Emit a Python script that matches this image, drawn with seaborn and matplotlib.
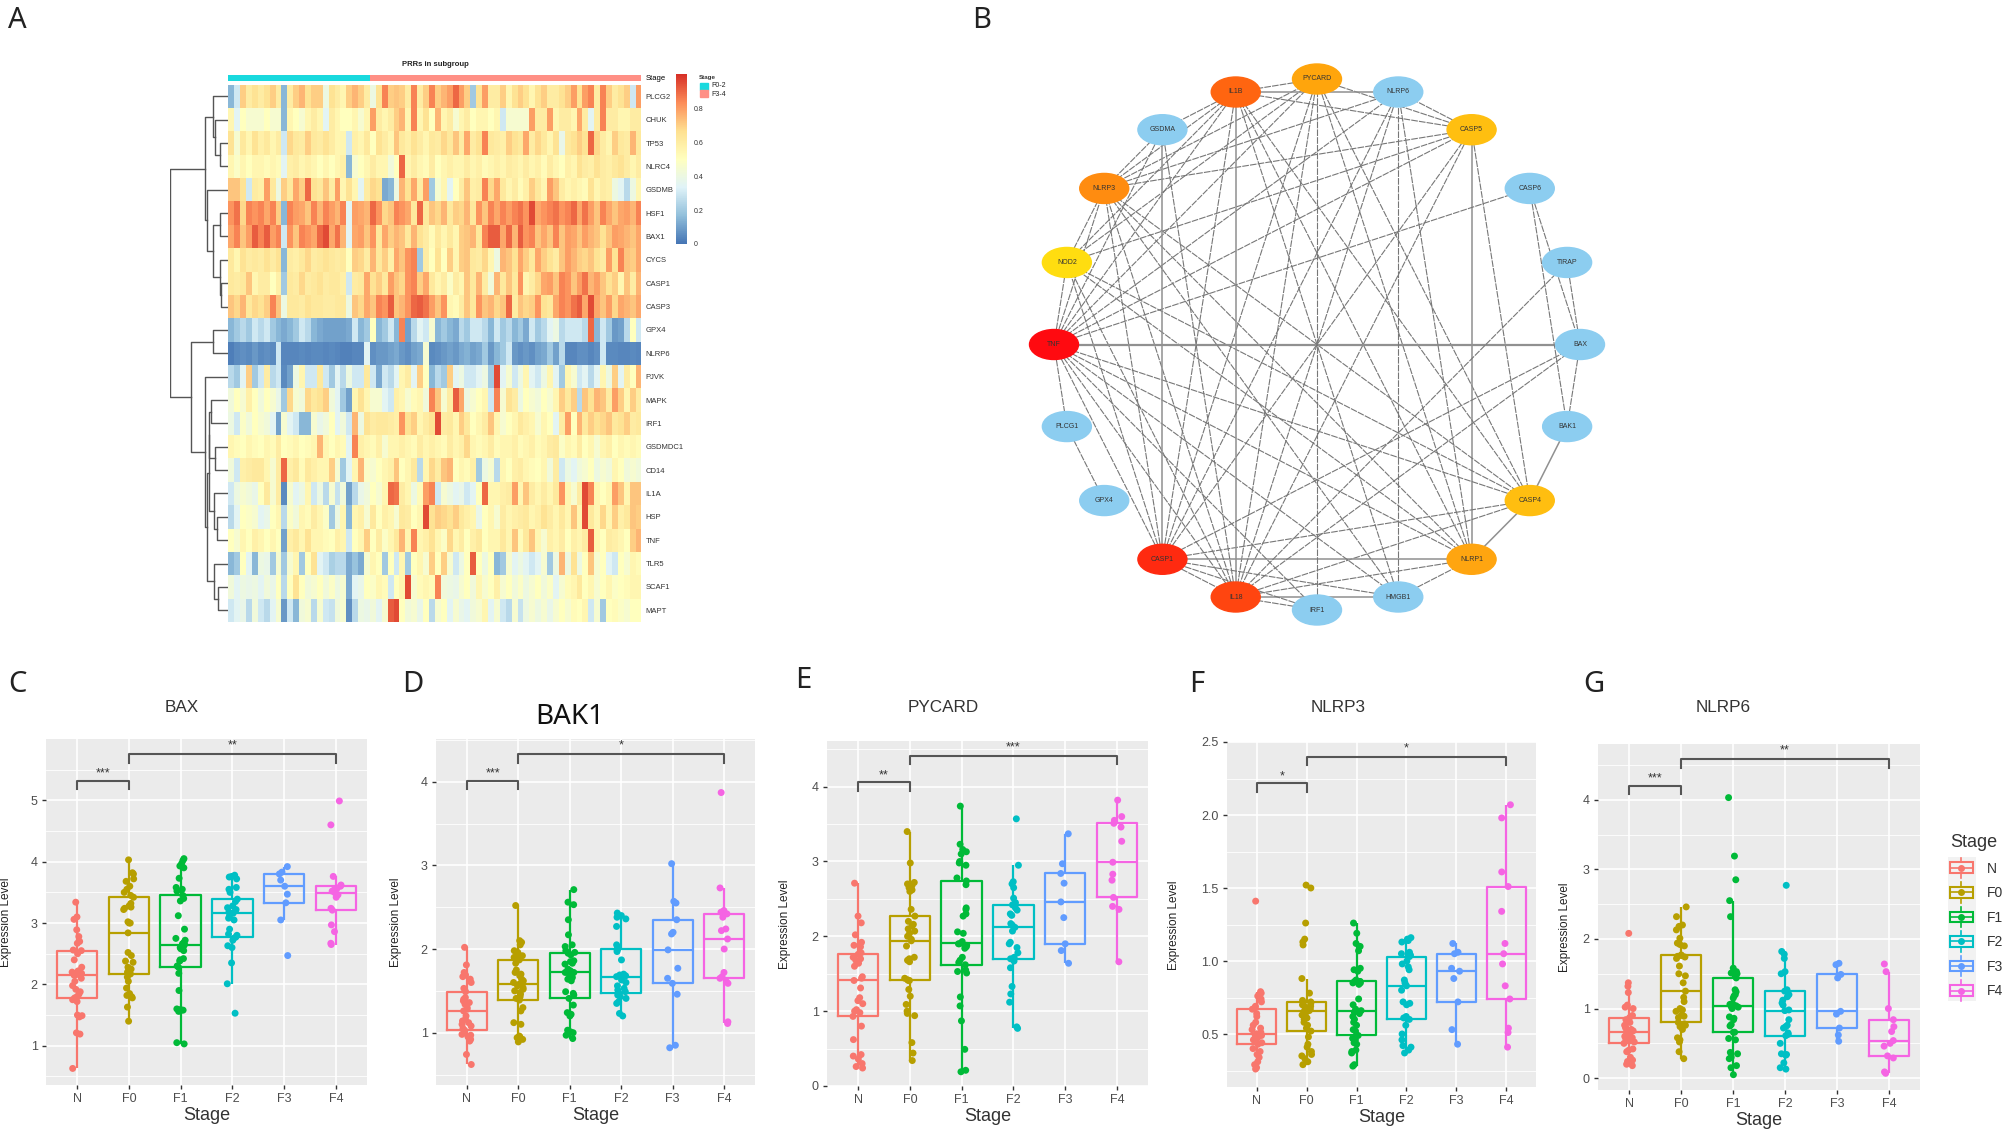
import itertools
import numpy as np
import pandas as pd
import matplotlib
matplotlib.use("Agg")
import matplotlib.pyplot as plt
from matplotlib.colors import LinearSegmentedColormap, ListedColormap
from matplotlib.legend_handler import HandlerBase
from matplotlib.lines import Line2D
from matplotlib.patches import Ellipse, Rectangle
import seaborn as sns

plt.rcParams['font.family'] = ['Liberation Sans', 'DejaVu Sans']

W, H = 2008, 1134
stages = ['N', 'F0', 'F1', 'F2', 'F3', 'F4']
stage_colors = ['#F8766D', '#B79F00', '#00BA38', '#00BFC4', '#619CFF', '#F564E3']

# BAX
bax_n = [0.63, 1.19, 1.21, 1.47, 1.49, 1.50, 1.72, 1.75, 1.78, 1.80, 1.84, 1.88, 1.92, 1.98, 2.05, 2.10, 2.15, 2.16, 2.18, 2.20, 2.22, 2.28, 2.40, 2.50, 2.55, 2.56, 2.67, 2.70, 2.78, 2.89, 3.06, 3.10, 3.34]
bax_f0 = [1.40, 1.63, 1.78, 1.80, 1.82, 1.85, 1.94, 2.05, 2.12, 2.17, 2.20, 2.22, 2.25, 2.28, 2.36, 2.38, 2.47, 2.52, 2.84, 3.00, 3.00, 3.02, 3.22, 3.24, 3.26, 3.28, 3.32, 3.42, 3.45, 3.50, 3.55, 3.60, 3.68, 3.72, 3.80, 3.82, 4.03]
bax_f1 = [1.03, 1.05, 1.56, 1.57, 1.58, 1.59, 1.60, 1.90, 2.18, 2.28, 2.30, 2.38, 2.40, 2.42, 2.55, 2.58, 2.60, 2.62, 2.65, 2.66, 2.68, 2.72, 2.75, 2.90, 3.12, 3.36, 3.40, 3.45, 3.52, 3.55, 3.58, 3.73, 3.90, 3.93, 3.97, 4.02, 4.05]
bax_f2 = [1.53, 2.01, 2.35, 2.60, 2.63, 2.72, 2.75, 2.77, 2.80, 2.82, 2.90, 3.05, 3.08, 3.12, 3.16, 3.18, 3.20, 3.22, 3.25, 3.28, 3.35, 3.39, 3.50, 3.55, 3.58, 3.72, 3.75, 3.76, 3.78]
bax_f3 = [2.47, 3.05, 3.33, 3.47, 3.60, 3.70, 3.80, 3.83, 3.92]
bax_f4 = [2.65, 2.67, 2.86, 2.97, 3.21, 3.24, 3.42, 3.46, 3.49, 3.52, 3.54, 3.56, 3.60, 3.62, 3.76, 4.60, 4.99]

# BAK1
bak1_n = [0.62, 0.74, 0.90, 0.92, 0.95, 0.97, 0.98, 1.00, 1.03, 1.05, 1.08, 1.10, 1.12, 1.14, 1.16, 1.20, 1.26, 1.28, 1.30, 1.34, 1.36, 1.38, 1.40, 1.42, 1.49, 1.53, 1.60, 1.64, 1.67, 1.69, 1.72, 1.81, 2.02]
bak1_f0 = [0.89, 0.92, 0.94, 0.95, 0.96, 1.10, 1.12, 1.26, 1.30, 1.39, 1.41, 1.43, 1.46, 1.48, 1.50, 1.52, 1.54, 1.56, 1.58, 1.60, 1.62, 1.64, 1.68, 1.70, 1.72, 1.75, 1.83, 1.87, 1.90, 1.92, 1.95, 1.96, 1.98, 2.05, 2.08, 2.10, 2.52]
bak1_f1 = [0.93, 0.97, 1.00, 1.01, 1.03, 1.20, 1.22, 1.24, 1.33, 1.41, 1.45, 1.47, 1.49, 1.62, 1.64, 1.66, 1.68, 1.70, 1.72, 1.72, 1.74, 1.76, 1.82, 1.83, 1.85, 1.86, 1.93, 1.95, 1.96, 1.98, 2.03, 2.05, 2.17, 2.35, 2.53, 2.56, 2.71]
bak1_f2 = [1.20, 1.23, 1.35, 1.37, 1.41, 1.43, 1.45, 1.47, 1.49, 1.51, 1.53, 1.56, 1.60, 1.63, 1.67, 1.68, 1.69, 1.70, 1.87, 1.97, 1.99, 2.00, 2.02, 2.05, 2.27, 2.36, 2.38, 2.40, 2.43]
bak1_f3 = [0.82, 0.85, 1.46, 1.59, 1.65, 1.77, 1.99, 2.18, 2.20, 2.35, 2.55, 2.57, 3.02]
bak1_f4 = [1.11, 1.13, 1.59, 1.61, 1.65, 1.67, 1.72, 2.00, 2.12, 2.22, 2.24, 2.38, 2.42, 2.44, 2.46, 2.73, 3.87]

# PYCARD
pycard_n = [0.24, 0.26, 0.30, 0.36, 0.40, 0.42, 0.62, 0.80, 0.93, 0.98, 1.00, 1.02, 1.10, 1.14, 1.18, 1.31, 1.41, 1.44, 1.46, 1.60, 1.64, 1.68, 1.70, 1.72, 1.76, 1.78, 1.86, 1.88, 1.92, 2.02, 2.18, 2.27, 2.71]
pycard_f0 = [0.34, 0.44, 0.58, 0.94, 0.97, 1.00, 1.09, 1.20, 1.29, 1.41, 1.41, 1.42, 1.44, 1.66, 1.68, 1.70, 1.72, 1.87, 1.94, 1.96, 2.00, 2.04, 2.07, 2.10, 2.14, 2.16, 2.20, 2.27, 2.36, 2.60, 2.62, 2.65, 2.68, 2.70, 2.72, 2.98, 3.40]
pycard_f1 = [0.19, 0.21, 0.49, 0.87, 1.07, 1.19, 1.51, 1.53, 1.55, 1.62, 1.65, 1.68, 1.72, 1.84, 1.86, 1.88, 1.90, 1.90, 1.91, 1.93, 2.04, 2.06, 2.27, 2.30, 2.36, 2.38, 2.69, 2.74, 2.78, 2.95, 2.98, 3.00, 3.10, 3.13, 3.16, 3.23, 3.74]
pycard_f2 = [0.77, 0.79, 1.12, 1.23, 1.33, 1.58, 1.67, 1.70, 1.72, 1.78, 1.85, 1.90, 1.92, 2.07, 2.12, 2.15, 2.17, 2.28, 2.30, 2.35, 2.38, 2.42, 2.45, 2.51, 2.65, 2.70, 2.73, 2.95, 3.57]
pycard_f3 = [1.64, 1.81, 1.90, 2.25, 2.46, 2.71, 2.84, 2.97, 3.37]
pycard_f4 = [1.66, 2.36, 2.40, 2.52, 2.75, 2.83, 2.99, 3.27, 3.46, 3.51, 3.55, 3.60, 3.82]

# NLRP3
nlrp3_n = [0.26, 0.27, 0.29, 0.31, 0.34, 0.36, 0.38, 0.40, 0.43, 0.44, 0.46, 0.47, 0.48, 0.49, 0.49, 0.50, 0.50, 0.51, 0.53, 0.54, 0.56, 0.58, 0.62, 0.64, 0.67, 0.68, 0.69, 0.72, 0.74, 0.76, 0.78, 0.79, 1.41]
nlrp3_f0 = [0.29, 0.31, 0.33, 0.35, 0.36, 0.38, 0.41, 0.43, 0.48, 0.52, 0.54, 0.56, 0.58, 0.60, 0.61, 0.62, 0.63, 0.64, 0.66, 0.66, 0.67, 0.68, 0.68, 0.69, 0.70, 0.70, 0.71, 0.72, 0.73, 0.78, 0.88, 1.11, 1.13, 1.15, 1.26, 1.50, 1.52]
nlrp3_f1 = [0.28, 0.29, 0.37, 0.38, 0.39, 0.43, 0.44, 0.46, 0.47, 0.49, 0.52, 0.53, 0.56, 0.58, 0.60, 0.62, 0.64, 0.65, 0.66, 0.67, 0.70, 0.74, 0.84, 0.85, 0.85, 0.86, 0.86, 0.86, 0.87, 0.93, 0.94, 0.95, 1.07, 1.10, 1.12, 1.19, 1.26]
nlrp3_f2 = [0.37, 0.39, 0.41, 0.42, 0.46, 0.50, 0.56, 0.60, 0.61, 0.62, 0.70, 0.71, 0.72, 0.80, 0.83, 0.85, 0.87, 0.94, 0.96, 0.98, 1.00, 1.03, 1.04, 1.05, 1.06, 1.13, 1.14, 1.15, 1.16]
nlrp3_f3 = [0.43, 0.53, 0.72, 0.88, 0.93, 0.95, 1.05, 1.06, 1.12]
nlrp3_f4 = [0.41, 0.51, 0.54, 0.74, 0.83, 0.98, 1.05, 1.12, 1.34, 1.51, 1.61, 1.98, 2.07]

# NLRP6
nlrp6_n = [0.18, 0.20, 0.24, 0.26, 0.30, 0.38, 0.40, 0.42, 0.50, 0.52, 0.54, 0.56, 0.58, 0.60, 0.62, 0.64, 0.66, 0.68, 0.70, 0.72, 0.74, 0.76, 0.80, 0.84, 0.87, 0.90, 1.00, 1.02, 1.05, 1.23, 1.32, 1.37, 2.08]
nlrp6_f0 = [0.28, 0.38, 0.52, 0.55, 0.58, 0.70, 0.74, 0.76, 0.78, 0.80, 0.87, 0.89, 0.91, 0.96, 0.98, 1.00, 1.10, 1.16, 1.25, 1.37, 1.47, 1.50, 1.61, 1.72, 1.74, 1.75, 1.76, 1.77, 1.90, 1.92, 1.94, 2.01, 2.13, 2.18, 2.20, 2.32, 2.46]
nlrp6_f1 = [0.05, 0.15, 0.18, 0.28, 0.30, 0.35, 0.37, 0.55, 0.57, 0.66, 0.66, 0.75, 0.77, 0.84, 0.86, 0.88, 1.00, 1.02, 1.03, 1.04, 1.06, 1.07, 1.15, 1.18, 1.20, 1.24, 1.27, 1.44, 1.50, 1.51, 1.53, 1.58, 2.32, 2.55, 2.85, 3.19, 4.03]
nlrp6_f2 = [0.13, 0.15, 0.22, 0.33, 0.34, 0.35, 0.50, 0.61, 0.63, 0.65, 0.72, 0.74, 0.76, 0.84, 0.97, 0.98, 1.05, 1.08, 1.12, 1.17, 1.20, 1.25, 1.27, 1.50, 1.53, 1.72, 1.78, 1.82, 2.77]
nlrp6_f3 = [0.53, 0.62, 0.72, 0.92, 0.96, 1.44, 1.49, 1.63, 1.65]
nlrp6_f4 = [0.07, 0.09, 0.29, 0.32, 0.46, 0.50, 0.54, 0.67, 0.74, 0.84, 1.00, 1.53, 1.64]

# heatmap rows, 0-1 scale
hm_labels = ['PLCG2', 'CHUK', 'TP53', 'NLRC4', 'GSDMB', 'HSF1', 'BAX1', 'CYCS', 'CASP1', 'CASP3', 'GPX4', 'NLRP6', 'PJVK', 'MAPK', 'IRF1', 'GSDMDC1', 'CD14', 'IL1A', 'HSP', 'TNF', 'TLR5', 'SCAF1', 'MAPT']
hm_0 = [.15,.3,.7,.6,.65,.6,.65,.7,.6,.15, .6,.7,.75,.65,.7,.7,.4,.65,.6,.55, .7,.75,.7,.6,.4,.65,.85,.7,.72,.7, .6,.85,.6,.7,.85,.7,.75,.8,.9,.8, .7,.2,.65,.8,.6,.6,.7,.55,.65,.7, .65,.55,.65,.7,.6,.6,.65,.7,.8,.65, .8,.85,.6,.85,.7,.6,.65,.7,.3,.8]
hm_1 = [.55,.35,.5,.45,.45,.45,.5,.45,.45,.15, .55,.5,.45,.55,.6,.55,.35,.6,.55,.5, .5,.55,.45,.55,.8,.6,.55,.6,.7,.75, .55,.85,.55,.65,.5,.75,.55,.6,.45,.55, .6,.5,.55,.55,.5,.55,.3,.45,.45,.45, .45,.8,.6,.6,.8,.55,.6,.6,.55,.78, .6,.35,.6,.85,.6,.6,.55,.55,.6,.6]
hm_2 = [.65,.45,.62,.55,.65,.58,.62,.55,.6,.3, .68,.62,.6,.7,.62,.6,.65,.6,.55,.55, .3,.58,.55,.62,.5,.65,.6,.55,.72,.62, .58,.65,.6,.55,.62,.6,.68,.62,.72,.6, .78,.6,.65,.85,.62,.6,.58,.7,.65,.62, .78,.6,.68,.62,.55,.65,.38,.62,.65,.7, .65,.9,.68,.6,.55,.7,.62,.6,.75,.62]
hm_3 = [.55,.48,.55,.5,.55,.55,.52,.55,.52,.35, .58,.6,.55,.58,.55,.5,.55,.5,.55,.58, .15,.45,.5,.55,.6,.55,.55,.42,.5,.9, .55,.6,.55,.52,.6,.5,.55,.58,.55,.55, .6,.55,.58,.52,.55,.58,.55,.6,.58,.55, .6,.55,.58,.52,.6,.55,.5,.58,.55,.65, .6,.58,.65,.6,.58,.62,.65,.6,.55,.6]
hm_4 = [.72,.72,.65,.3,.6,.58,.8,.62,.4,.7, .62,.78,.7,.9,.65,.62,.72,.6,.8,.55, .65,.55,.35,.6,.68,.65,.12,.15,.4,.75, .65,.78,.6,.8,.2,.45,.55,.35,.5,.6, .72,.58,.6,.85,.68,.78,.62,.55,.6,.52, .58,.7,.62,.55,.8,.72,.6,.55,.58,.55, .52,.65,.55,.6,.58,.4,.35,.25,.4,.55]
hm_5 = [.82,.88,.68,.85,.82,.85,.78,.85,.7,.15, .85,.8,.78,.72,.85,.75,.85,.8,.75,.85, .35,.8,.78,.75,.9,.82,.68,.72,.85,.82, .78,.62,.9,.62,.72,.68,.75,.62,.7,.68, .75,.62,.82,.72,.85,.78,.85,.8,.85,.88, .82,.95,.78,.82,.85,.88,.82,.85,.9,.78, .88,.8,.72,.85,.78,.72,.78,.8,.75,.85]
hm_6 = [.78,.85,.72,.8,.92,.85,.92,.8,.85,.3, .82,.72,.85,.82,.78,.9,.95,.78,.88,.75, .35,.78,.8,.72,.82,.62,.78,.7,.75,.72, .62,.75,.65,.6,.52,.62,.55,.62,.55,.7, .72,.75,.62,.85,.92,.92,.78,.9,.75,.92, .82,.85,.72,.78,.72,.85,.72,.8,.78,.72, .8,.75,.72,.65,.72,.8,.78,.75,.72,.78]
hm_7 = [.62,.55,.65,.6,.62,.6,.65,.6,.65,.15, .6,.58,.62,.68,.6,.62,.65,.62,.6,.62, .5,.7,.68,.6,.75,.62,.7,.58,.78,.72, .82,.85,.2,.6,.5,.65,.5,.7,.55,.7, .72,.62,.6,.68,.55,.4,.75,.72,.65,.78, .7,.62,.78,.7,.65,.6,.72,.8,.75,.7, .68,.72,.65,.6,.8,.65,.85,.72,.7,.78]
hm_8 = [.62,.6,.62,.72,.55,.6,.6,.5,.58,.2, .62,.6,.68,.6,.62,.65,.6,.62,.62,.58, .3,.6,.62,.78,.65,.7,.62,.8,.72,.68, .82,.85,.7,.78,.62,.55,.6,.48,.6,.55, .72,.62,.75,.6,.42,.75,.62,.72,.62,.82, .55,.6,.68,.78,.8,.72,.85,.82,.72,.8, .88,.75,.8,.72,.65,.7,.55,.72,.6,.75]
hm_9 = [.72,.68,.75,.62,.68,.65,.7,.85,.72,.4, .62,.62,.6,.65,.62,.62,.6,.6,.62,.62, .4,.72,.68,.78,.72,.85,.82,.92,.72,.75, .82,.9,.92,.88,.8,.72,.82,.55,.52,.6, .72,.62,.82,.72,.75,.68,.72,.9,.6,.72, .68,.7,.82,.65,.62,.78,.85,.82,.88,.92, .78,.95,.78,.72,.8,.68,.78,.75,.72,.78]
hm_10 = [.15,.2,.25,.2,.3,.25,.3,.2,.15,.12, .15,.2,.3,.25,.15,.12,.1,.1,.1,.1, .12,.3,.15,.2,.5,.15,.2,.3,.15,.85, .1,.25,.35,.3,.45,.15,.2,.15,.12,.25, .2,.3,.3,.25,.15,.3,.2,.25,.15,.2, .12,.3,.2,.25,.35,.4,.25,.3,.3,.3, .25,.9,.15,.3,.2,.08,.1,.25,.5,.3]
hm_11 = [.02,.05,.06,.05,.08,.05,.06,.05,.3,.04, .04,.04,.05,.04,.05,.05,.04,.05,.04,.03, .03,.04,.04,.35,.06,.08,.08,.1,.12,.08, .06,.1,.12,.45,.05,.06,.08,.1,.08,.12, .14,.1,.12,.2,.08,.15,.2,.3,.08,.06, .08,.06,.1,.12,.2,.1,.25,.04,.04,.06, .06,.04,.06,.3,.05,.05,.04,.04,.05,.04]
hm_12 = [.25,.2,.35,.7,.2,.3,.6,.25,.3,.05, .1,.4,.55,.3,.3,.62,.3,.2,.35,.25, .4,.3,.3,.62,.3,.12,.3,.25,.35,.55, .6,.35,.7,.5,.15,.25,.2,.7,.35,.4, .3,.3,.35,.4,.2,.95,.35,.45,.3,.4, .55,.35,.3,.4,.55,.35,.2,.55,.45,.3, .35,.25,.35,.55,.4,.7,.35,.6,.5,.75]
hm_13 = [.42,.5,.45,.58,.5,.42,.5,.45,.38,.2, .68,.45,.42,.68,.62,.65,.7,.42,.35,.2, .1,.55,.65,.55,.45,.45,.35,.3,.58,.55, .45,.52,.55,.42,.85,.72,.45,.6,.92,.78, .4,.45,.5,.55,.3,.85,.45,.65,.6,.4, .5,.45,.42,.5,.45,.55,.7,.62,.7,.25, .72,.65,.75,.72,.6,.8,.7,.55,.7,.6]
hm_14 = [.4,.3,.48,.42,.5,.45,.42,.35,.1,.45, .35,.3,.15,.15,.45,.38,.42,.5,.35,.42, .3,.75,.4,.65,.6,.62,.62,.6,.58,.82, .65,.7,.55,.6,.65,.95,.6,.62,.55,.7, .62,.5,.55,.6,.72,.55,.45,.5,.55,.62, .58,.55,.45,.55,.5,.35,.6,.8,.5,.75, .62,.7,.65,.68,.72,.62,.65,.7,.6,.62]
hm_15 = [.55,.52,.5,.55,.52,.5,.55,.52,.6,.5, .52,.55,.5,.52,.55,.75,.55,.5,.55,.52, .35,.85,.58,.55,.52,.58,.45,.55,.55,.58, .55,.52,.6,.55,.58,.55,.52,.6,.55,.58, .68,.55,.52,.55,.6,.52,.55,.55,.58,.52, .55,.58,.52,.55,.6,.62,.48,.55,.52,.6, .5,.55,.45,.55,.58,.5,.55,.52,.55,.52]
hm_16 = [.42,.3,.58,.6,.62,.62,.55,.45,.6,.9, .58,.62,.52,.62,.58,.55,.55,.7,.45,.2, .35,.55,.75,.48,.45,.5,.55,.58,.72,.5, .55,.62,.25,.55,.68,.6,.72,.75,.5,.55, .52,.58,.2,.4,.45,.25,.55,.5,.58,.6, .55,.52,.5,.55,.42,.6,.3,.4,.35,.42, .45,.5,.4,.45,.42,.55,.5,.42,.45,.42]
hm_17 = [.3,.4,.45,.42,.38,.5,.62,.45,.6,.05, .45,.35,.4,.55,.3,.4,.25,.45,.28,.42, .1,.25,.38,.42,.5,.45,.55,.9,.88,.6, .55,.4,.52,.8,.85,.3,.45,.4,.35,.38, .3,.35,.5,.9,.55,.55,.58,.6,.8,.55, .72,.6,.55,.6,.55,.62,.82,.55,.45,.6, .95,.85,.55,.5,.55,.8,.72,.55,.72,.72]
hm_18 = [.25,.35,.5,.48,.45,.35,.38,.5,.55,.25, .48,.42,.55,.52,.6,.55,.48,.2,.4,.55, .15,.55,.58,.45,.62,.5,.58,.55,.45,.62, .6,.5,.55,.95,.65,.7,.68,.65,.7,.62, .58,.55,.38,.5,.55,.45,.6,.55,.58,.6, .62,.55,.58,.65,.6,.55,.62,.55,.72,.55, .95,.62,.55,.68,.55,.7,.58,.62,.72,.7]
hm_19 = [.5,.45,.55,.5,.58,.55,.5,.55,.5,.1, .58,.62,.55,.65,.55,.55,.52,.5,.58,.55, .3,.5,.55,.7,.5,.6,.48,.55,.62,.75, .55,.85,.55,.58,.65,.55,.48,.68,.55,.6, .5,.58,.62,.5,.55,.55,.62,.55,.72,.52, .62,.72,.55,.45,.58,.55,.6,.5,.58,.55, .6,.92,.55,.5,.6,.58,.55,.5,.7,.75]
hm_20 = [.15,.2,.5,.35,.15,.4,.38,.2,.45,.2, .45,.55,.2,.5,.65,.35,.3,.22,.25,.25, .12,.18,.12,.45,.55,.5,.2,.5,.3,.55, .2,.5,.55,.45,.7,.5,.7,.45,.3,.4, .5,.92,.5,.4,.5,.15,.2,.45,.35,.4, .35,.3,.35,.45,.2,.4,.75,.4,.65,.4, .5,.72,.45,.5,.35,.3,.5,.45,.55,.52]
hm_21 = [.42,.35,.4,.38,.4,.35,.42,.38,.5,.25, .5,.65,.5,.42,.45,.5,.42,.48,.4,.45, .12,.35,.38,.5,.48,.55,.52,.3,.5,.55, .95,.45,.52,.55,.52,.85,.42,.4,.38,.45, .5,.42,.55,.45,.5,.58,.45,.5,.42,.48, .4,.45,.5,.42,.48,.35,.45,.52,.55,.62, .5,.55,.45,.5,.55,.48,.5,.52,.55,.55]
hm_22 = [.3,.35,.38,.25,.42,.3,.25,.35,.45,.08, .3,.15,.42,.45,.25,.45,.3,.28,.42,.45, .06,.25,.4,.38,.42,.35,.45,.92,.95,.5, .42,.45,.38,.5,.25,.45,.5,.35,.45,.38, .35,.42,.45,.55,.35,.45,.3,.25,.45,.28, .4,.45,.4,.45,.38,.45,.5,.45,.52,.5, .55,.3,.45,.2,.5,.52,.48,.45,.5,.5]
hm_rows = [hm_0, hm_1, hm_2, hm_3, hm_4, hm_5, hm_6, hm_7, hm_8, hm_9, hm_10, hm_11, hm_12, hm_13, hm_14, hm_15, hm_16, hm_17, hm_18, hm_19, hm_20, hm_21, hm_22]
group_counts = [24, 46]

# row dendrogram: (height, child, child), leaves are row numbers
dendro = (1.0,
          (.39,
           (.257, 0, (.223, 1, (.135, 2, 3))),
           (.358, 4, (.257, (.135, 5, 6), (.15, 7, (.12, 8, 9))))),
          (.64,
           (.257, 10, 11),
           (.405, 12,
            (.358,
             (.338,
              (.325, (.29, 13, 14), (.223, 15, 16)),
              (.236, 17, (.19, 18, 19))),
             (.236, 20, (.176, 21, 22))))))

# network, clockwise from the top
net_nodes = ['PYCARD', 'NLRP6', 'CASP5', 'CASP6', 'TIRAP', 'BAX', 'BAK1', 'CASP4', 'NLRP1', 'HMGB1',
             'IRF1', 'IL18', 'CASP1', 'GPX4', 'PLCG1', 'TNF', 'NOD2', 'NLRP3', 'GSDMA', 'IL1B']
net_colors = ['#FFA50C', '#8CCDF0', '#FFBF10', '#8CCDF0', '#8CCDF0', '#8CCDF0', '#8CCDF0', '#FFBE10', '#FFA510', '#8CCDF0',
              '#8CCDF0', '#FF4510', '#FF2A10', '#8CCDF0', '#8CCDF0', '#FF0A10', '#FFDD10', '#FF8C10', '#8CCDF0', '#FF6510']
net_hubs = ['PYCARD', 'CASP5', 'CASP4', 'NLRP1', 'IL18', 'CASP1', 'TNF', 'NOD2', 'NLRP3', 'IL1B']
net_extra = [('TNF', 'NLRP6'), ('TNF', 'CASP6'), ('TNF', 'BAX'), ('TNF', 'HMGB1'), ('TNF', 'IRF1'), ('TNF', 'PLCG1'), ('TNF', 'GSDMA'),
             ('PLCG1', 'GPX4'), ('CASP6', 'BAK1'), ('CASP6', 'BAX'), ('TIRAP', 'BAX'), ('TIRAP', 'IL18'), ('BAX', 'BAK1'), ('BAX', 'CASP1'),
             ('BAX', 'IL18'), ('BAK1', 'CASP4'), ('NLRP1', 'HMGB1'), ('HMGB1', 'IL18'), ('HMGB1', 'CASP1'), ('IRF1', 'IL18'), ('IRF1', 'CASP1'),
             ('NLRP6', 'CASP5'), ('NLRP6', 'IL1B'), ('NLRP6', 'NLRP3'), ('NLRP6', 'CASP1'), ('NLRP6', 'IL18'), ('NLRP6', 'NLRP1'), ('NLRP6', 'HMGB1'),
             ('GSDMA', 'IL1B'), ('GSDMA', 'NLRP3'), ('GSDMA', 'CASP1'), ('GSDMA', 'IL18'), ('HMGB1', 'IL1B'), ('HMGB1', 'NLRP3'), ('IRF1', 'PYCARD')]
net_solid = [('TNF', 'BAX'), ('IL1B', 'IL18'), ('GSDMA', 'CASP1'), ('CASP5', 'NLRP1'), ('NLRP6', 'IL1B'), ('HMGB1', 'IL18'), ('CASP1', 'NLRP1'), ('BAK1', 'CASP4'), ('CASP4', 'NLRP1')]

panels = [
    dict(title='BAX', groups=[bax_n, bax_f0, bax_f1, bax_f2, bax_f3, bax_f4], box=(46, 739, 367, 1085), ylim=(.36, 6.0), ticks=[1, 2, 3, 4, 5],
         stars=('***', '**'), title_xy=(182, 708), label_x=12, letter=('C', 17, 685)),
    dict(title='BAK1', groups=[bak1_n, bak1_f0, bak1_f1, bak1_f2, bak1_f3, bak1_f4], box=(436, 739, 755, 1085), ylim=(.375, 4.51), ticks=[1, 2, 3, 4],
         stars=('***', '*'), title_xy=(570, 717), label_x=402, letter=('D', 413, 685)),
    dict(title='PYCARD', groups=[pycard_n, pycard_f0, pycard_f1, pycard_f2, pycard_f3, pycard_f4], box=(827, 741, 1148, 1086), ylim=(0, 4.61), ticks=[0, 1, 2, 3, 4],
         stars=('**', '***'), title_xy=(943, 708), label_x=791, letter=('E', 803, 681)),
    dict(title='NLRP3', groups=[nlrp3_n, nlrp3_f0, nlrp3_f1, nlrp3_f2, nlrp3_f3, nlrp3_f4], box=(1227, 742, 1536, 1087), ylim=(.137, 2.5), ticks=[.5, 1, 1.5, 2, 2.5],
         stars=('*', '*'), title_xy=(1338, 708), label_x=1180, letter=('F', 1197, 685)),
    dict(title='NLRP6', groups=[nlrp6_n, nlrp6_f0, nlrp6_f1, nlrp6_f2, nlrp6_f3, nlrp6_f4], box=(1598, 744, 1920, 1090), ylim=(-.17, 4.8), ticks=[0, 1, 2, 3, 4],
         stars=('***', '**'), title_xy=(1723, 708), label_x=1571, letter=('G', 1594, 685)),
]


def px_axes(left, top, right, bottom):
    return fig.add_axes([left / W, 1 - bottom / H, (right - left) / W, (bottom - top) / H])


def draw_tree(ax, node):
    # returns (height, row position) of the node
    if not isinstance(node, tuple):
        return 0, node + .5
    h, a, b = node
    ha, ya = draw_tree(ax, a)
    hb, yb = draw_tree(ax, b)
    ax.plot([ha, h, h, hb], [ya, ya, yb, yb], color='#555555', lw=1)
    return h, (ya + yb) / 2


class BoxKey(HandlerBase):
    def create_artists(self, legend, orig, xd, yd, width, height, fontsize, trans):
        c = orig.get_color()
        cy = height / 2 - yd
        cx = width / 2 - xd
        box = Rectangle((-xd, cy - height * .45), width, height * .9, fill=False, ec=c, lw=1.5, transform=trans)
        stem_a = Line2D([cx, cx], [cy + height * .45, cy + height * .85], color=c, lw=1.2, transform=trans)
        stem_b = Line2D([cx, cx], [cy - height * .85, cy - height * .45], color=c, lw=1.2, transform=trans)
        mid = Line2D([-xd, width - xd], [cy, cy], color=c, lw=1.2, transform=trans)
        dot = Line2D([cx], [cy], color=c, marker='o', ms=4, transform=trans)
        return [box, stem_a, stem_b, mid, dot]


fig = plt.figure(figsize=(W / 100, H / 100), dpi=100)
canvas = fig.add_axes([0, 0, 1, 1])
canvas.set_xlim(0, W)
canvas.set_ylim(H, 0)
canvas.axis('off')

# --- A: heatmap ---
hm_cmap = LinearSegmentedColormap.from_list('rdylbu', ['#4575B4', '#91BFDB', '#E0F3F8', '#FFFFBF', '#FEE090', '#FC8D59', '#D73027'])
ax_hm = px_axes(228.3, 84.6, 641.5, 622)
ax_cb = px_axes(676, 74.4, 687, 244)
sns.heatmap(pd.DataFrame(hm_rows, index=hm_labels), ax=ax_hm, cmap=hm_cmap, vmin=0, vmax=1, cbar_ax=ax_cb,
            cbar_kws={'ticks': [0, .2, .4, .6, .8]}, xticklabels=False, yticklabels=True)
ax_hm.set_xlabel('')
ax_hm.yaxis.tick_right()
ax_hm.tick_params(axis='y', length=0, pad=3, labelsize=5.5, labelrotation=0, labelcolor='#333333')
ax_cb.tick_params(length=0, pad=5, labelsize=5, labelcolor='#333333')
ax_cb.set_yticklabels(['0', '0.2', '0.4', '0.6', '0.8'])

ax_ann = px_axes(228.3, 75, 641.5, 81)
group_row = [[0] * group_counts[0] + [1] * group_counts[1]]
sns.heatmap(group_row, ax=ax_ann, cmap=ListedColormap(['#19D9DE', '#FF8F85']), cbar=False,
            xticklabels=False, yticklabels=['Stage'])
ax_ann.yaxis.tick_right()
ax_ann.tick_params(axis='y', length=0, pad=3, labelsize=5.5, labelrotation=0)

ax_den = px_axes(169.8, 84.6, 228.3, 622)
draw_tree(ax_den, dendro)
ax_den.set_xlim(1.0, 0)
ax_den.set_ylim(len(hm_rows), 0)
ax_den.axis('off')

canvas.text(435, 64, 'PRRs in subgroup', ha='center', va='center', fontsize=5.5, fontweight='bold', color='#222222')
canvas.text(699, 77, 'Stage', ha='left', va='center', fontsize=4.5, fontweight='bold', color='#333333')
canvas.add_patch(Rectangle((700, 82.7), 8, 7.7, color='#19D9DE'))
canvas.add_patch(Rectangle((700, 90.4), 8, 6.6, color='#FF8F85'))
canvas.text(711, 85.6, 'F0-2', ha='left', va='center', fontsize=5, color='#222222')
canvas.text(711, 94, 'F3-4', ha='left', va='center', fontsize=5, color='#222222')

# --- B: network ---
cx, cy, rx, ry = 1317, 344.5, 263, 265.5
angles = np.arange(len(net_nodes)) * 2 * np.pi / len(net_nodes)
node_x = dict(zip(net_nodes, cx + rx * np.sin(angles)))
node_y = dict(zip(net_nodes, cy - ry * np.cos(angles)))
net_edges = list(itertools.combinations(net_hubs, 2)) + net_extra
for a, b in net_edges:
    solid = (a, b) in net_solid or (b, a) in net_solid
    lw = 1.1 if solid else .8
    if a == 'TNF' and b == 'BAX':
        lw = 1.6
    canvas.plot([node_x[a], node_x[b]], [node_y[a], node_y[b]], color='#909090' if solid else '#777777',
                lw=lw, ls='-' if solid else (0, (6, 1)), zorder=1)
for name, color in zip(net_nodes, net_colors):
    canvas.add_patch(Ellipse((node_x[name], node_y[name]), 49, 30, color=color, zorder=2))
    canvas.text(node_x[name], node_y[name], name, ha='center', va='center', fontsize=5, color='#333333', zorder=3)

# --- C-G: box plots ---
np.random.seed(7)  # only for the horizontal jitter of the points
for p in panels:
    ax = px_axes(*p['box'])
    df = pd.concat([pd.DataFrame({'Stage': s, 'Expression': v}) for s, v in zip(stages, p['groups'])])
    sns.boxplot(data=df, x='Stage', y='Expression', hue='Stage', order=stages, hue_order=stages, palette=stage_colors,
                fill=False, width=.78, showfliers=False, showcaps=False, linewidth=1.6, legend=False, ax=ax)
    sns.stripplot(data=df, x='Stage', y='Expression', hue='Stage', order=stages, hue_order=stages, palette=stage_colors,
                  jitter=.1, size=5, linewidth=0, legend=False, ax=ax)
    ax.set_xlim(-.6, 5.6)
    ax.set_ylim(*p['ylim'])
    ticks = p['ticks']
    ax.set_yticks(ticks)
    if ticks[1] - ticks[0] == .5:
        ax.set_yticklabels(['%.1f' % t for t in ticks])
    minor = [t + (ticks[1] - ticks[0]) / 2 for t in [ticks[0] - (ticks[1] - ticks[0])] + ticks]
    ax.set_yticks([m for m in minor if p['ylim'][0] < m < p['ylim'][1]], minor=True)
    ax.set_facecolor('#EBEBEB')
    ax.set_axisbelow(True)
    ax.grid(which='major', color='white', lw=1.2)
    ax.grid(which='minor', axis='y', color='white', lw=.6)
    for s in ax.spines.values():
        s.set_visible(False)
    ax.tick_params(which='major', length=3, width=1, color='#333333', labelsize=9, labelcolor='#4D4D4D', pad=3)
    ax.tick_params(which='minor', length=0)
    ax.set_xlabel('Stage', fontsize=13, color='#333333', labelpad=1)
    ax.set_ylabel('Expression Level', fontsize=8.5, color='#222222')
    l, t, r, b = p['box']
    ax.yaxis.set_label_coords((p['label_x'] - l) / (r - l), .47)

    # significance brackets
    trans = ax.get_xaxis_transform()
    ax.plot([0, 0, 1, 1], [.855, .88, .88, .855], transform=trans, color='#555555', lw=1.5, clip_on=False)
    ax.plot([1, 1, 5, 5], [.932, .956, .956, .932], transform=trans, color='#555555', lw=1.5, clip_on=False)
    ax.text(.5, .9, p['stars'][0], transform=trans, ha='center', va='center', fontsize=9, color='#333333')
    ax.text(3, .98, p['stars'][1], transform=trans, ha='center', va='center', fontsize=9, color='#333333')

    big = p['title'] == 'BAK1'
    canvas.text(*p['title_xy'], p['title'], ha='center', va='center', fontsize=20 if big else 12.3,
                color='#111111' if big else '#333333', family=['Noto Sans'] if big else ['Liberation Sans'])
    canvas.text(p['letter'][1], p['letter'][2], p['letter'][0], ha='center', va='center', fontsize=21,
                family=['Noto Sans'], color='#222222')

canvas.text(17, 21, 'A', ha='center', va='center', fontsize=21, family=['Noto Sans'], color='#222222')
canvas.text(982, 21, 'B', ha='center', va='center', fontsize=21, family=['Noto Sans'], color='#222222')

# stage legend next to the last panel
canvas.add_patch(Rectangle((1948, 857), 28, 144, color='#F2F2F2', lw=0))
keys = [Line2D([], [], color=c) for c in stage_colors]
leg = ax.legend(keys, stages, handler_map={Line2D: BoxKey()}, title='Stage', loc='upper left',
                bbox_to_anchor=(1950 / W, 1 - 834 / H), bbox_transform=fig.transFigure, frameon=False,
                fontsize=10, handlelength=1.65, handleheight=.95, labelspacing=.76, handletextpad=1.0,
                borderaxespad=0, borderpad=0, alignment='left')
leg.get_title().set_fontsize(13)
leg.get_title().set_color('#333333')
for txt in leg.get_texts():
    txt.set_color('#333333')

plt.savefig('out.png', dpi=100)
